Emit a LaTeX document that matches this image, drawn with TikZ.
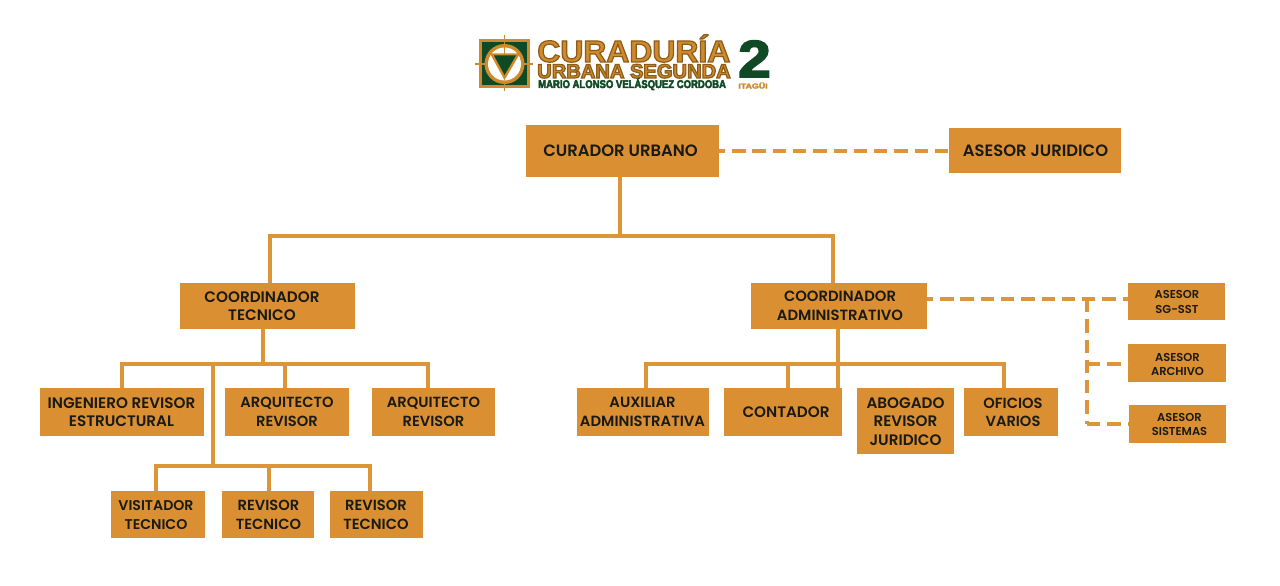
\documentclass[tikz,border=0pt]{standalone}
\usepackage{fontspec}
\setmainfont{Poppins}[BoldFont={Poppins SemiBold}]
\newfontfamily\logofont{Liberation Sans}[BoldFont={Liberation Sans Bold}]
\definecolor{boxc}{HTML}{DA8F33}
\definecolor{linec}{HTML}{DC9638}
\definecolor{inkc}{HTML}{1A1A14}
\definecolor{logog}{HTML}{0F4A24}
\definecolor{logoo}{HTML}{D08A2C}
\usetikzlibrary{calc}
\newcommand{\outl}{\special{pdf:code 2 Tr 0.9 w 0.55 0.36 0.10 RG}}
\newcommand{\outg}{\special{pdf:code 2 Tr 0.35 w 0.06 0.29 0.14 RG}}
\newcommand{\outgg}{\special{pdf:code 2 Tr 1.3 w 0.06 0.29 0.14 RG}}
\newcommand{\outo}{\special{pdf:code 2 Tr 0.2 w 0.82 0.54 0.17 RG}}
\newcommand{\unoutl}{\special{pdf:code 0 Tr}}
\tikzset{
  orgbox/.style={fill=boxc, draw=none, inner sep=0pt},
  orgtext/.style={inner sep=0pt, align=center, text=inkc, font=\bfseries\fontsize{11}{13.9}\selectfont},
  widet/.style={font=\bfseries\fontsize{11.4}{13.9}\selectfont},
  admt/.style={font=\bfseries\fontsize{11.1}{13.9}\selectfont},
  narrowt/.style={font=\bfseries\fontsize{10.6}{13.9}\selectfont},
  bigt/.style={font=\bfseries\fontsize{12.3}{14}\selectfont},
  smallt/.style={font=\bfseries\fontsize{8.6}{10.9}\selectfont},
  conn/.style={draw=linec, line width=2.3pt},
  dashconn/.style={draw=linec, line width=2.3pt, dash pattern=on 10pt off 5.2pt, dash phase=5.5pt},
  logotxt/.style={inner sep=0pt, anchor=base west, font=\logofont\bfseries},
}
% [text style] name x1 y1 x2 y2 textcx textcy text
\newcommand{\bx}[9][]{%
  \node[orgbox, minimum width={(#5-#3)*0.75pt}, minimum height={(#6-#4)*0.75pt}] (#2) at ({(#3+#5)/2},{(#4+#6)/2}) {};
  \node[orgtext,#1] (#2t) at (#7,#8) {#9};}
\begin{document}
\begin{tikzpicture}[x=0.75pt,y=-0.75pt]
\useasboundingbox (0,0) rectangle (1280,585);
\fill[white] (0,0) rectangle (1280,585);
% logo
\fill[logoo] (479,39) rectangle (530,88);
\fill[logog] (482,42) rectangle (527,85);
\draw[logoo,line width=0.9pt] (475,64) -- (533,64) (504.5,35) -- (504.5,91);
\fill[logoo] (504.5,64) circle[radius=20];
\fill[white] (504.5,64) circle[radius=16.5];
\draw[logoo,line width=0.9pt] (504.5,47) -- (504.5,55);
\fill[logoo] (490,53.5) -- (520,53.5) -- (504.5,80) -- cycle;
\fill[logog] (494,55.5) -- (516,55.5) -- (504.5,75) -- cycle;
\node[logotxt,text=logoo,xscale=1.04] (logoa) at (537,62) {\fontsize{23}{24}\selectfont\outl CURADURÍA\unoutl};
\node[logotxt,text=logoo,xscale=1.02] (logob) at (537,78) {\fontsize{14.8}{16}\selectfont\outl URBANA SEGUNDA\unoutl};
\node[logotxt,text=logog,xscale=.85] (logoc) at (538,88) {\fontsize{8.4}{9}\selectfont\outg MARIO ALONSO VELÁSQUEZ CORDOBA\unoutl};
\node[logotxt,text=logog,xscale=1.12] (logod) at (738,77) {\fontsize{39}{40}\selectfont\outgg 2\unoutl};
\node[logotxt,text=logoo,xscale=1.25] (logoe) at (738,88.5) {\fontsize{5.3}{6}\selectfont\outo ITAGÜI\unoutl};
% boxes
\bx[bigt]{cur}{526}{125}{719}{177}{620.5}{151}{CURADOR URBANO}
\bx[bigt]{jur}{949}{128}{1121}{173}{1035.5}{151}{ASESOR JURIDICO}
\bx[widet]{tec}{180}{283}{355}{329}{262}{306}{COORDINADOR\\TECNICO}
\bx[admt]{adm}{751}{283}{927}{329}{840}{306}{COORDINADOR\\ADMINISTRATIVO}
\bx[widet]{ing}{40}{388}{204}{436}{121.5}{412}{INGENIERO REVISOR\\ESTRUCTURAL}
\bx{arqa}{225}{388}{349}{436}{287}{412}{ARQUITECTO\\REVISOR}
\bx{arqb}{372}{388}{495}{436}{433.5}{412}{ARQUITECTO\\REVISOR}
\bx[narrowt]{vis}{111}{491}{205}{538}{156}{515}{VISITADOR\\TECNICO}
\bx{reva}{222}{491}{314}{538}{268.5}{515}{REVISOR\\TECNICO}
\bx{revb}{330}{491}{423}{538}{376}{515}{REVISOR\\TECNICO}
\bx[admt]{aux}{577}{388}{709}{436}{642.5}{412}{AUXILIAR\\ADMINISTRATIVA}
\bx[widet]{con}{724}{388}{842}{436}{786}{412}{CONTADOR}
\bx[widet]{abo}{857}{388}{954}{454}{905.5}{421.5}{ABOGADO\\REVISOR\\JURIDICO}
\bx{ofi}{964}{388}{1058}{436}{1013}{412.5}{OFICIOS\\VARIOS}
\bx[smallt]{sg}{1128}{283}{1225}{320}{1177}{302}{ASESOR\\SG-SST}
\bx[smallt]{arc}{1128}{344}{1226}{382}{1177.5}{364.5}{ASESOR\\ARCHIVO}
\bx[smallt]{sis}{1129}{405}{1226}{443}{1179.5}{424.5}{ASESOR\\SISTEMAS}
% bus coordinates
\coordinate (b0) at (620,236);
\coordinate (bt) at (270,236);
\coordinate (ba) at (833,236);
\coordinate (t0) at (263,364);
\coordinate (ti) at (122,364);
\coordinate (tm) at (213,364);
\coordinate (ta) at (285,364);
\coordinate (tb) at (428,364);
\coordinate (v0) at (213,466);
\coordinate (vv) at (156,466);
\coordinate (vr) at (269,466);
\coordinate (vs) at (370,466);
\coordinate (a0) at (838,364);
\coordinate (ax) at (646,364);
\coordinate (ac) at (788,364);
\coordinate (ao) at (1004,364);
\coordinate (d0) at (1087,299);
\coordinate (d1) at (1087,364);
\coordinate (d2) at (1087,424);
% connectors
\draw[conn] (cur.south -| b0) -- (b0);
\draw[conn] (tec.north -| bt) -- (bt) -- (ba) -- (adm.north -| ba);
\draw[conn] (tec.south -| t0) -- (t0);
\draw[conn] (ing.north -| ti) -- (ti) -- (tb) -- (arqb.north -| tb);
\draw[conn] (arqa.north -| ta) -- (ta);
\draw[conn] (tm) -- (v0);
\draw[conn] (vis.north -| vv) -- (vv) -- (vs) -- (revb.north -| vs);
\draw[conn] (reva.north -| vr) -- (vr);
\draw[conn] (adm.south -| a0) -- (abo.north -| a0);
\draw[conn] (aux.north -| ax) -- (ax) -- (ao) -- (ofi.north -| ao);
\draw[conn] (con.north -| ac) -- (ac);
\draw[dashconn] (cur.east) -- (jur.west |- cur.east);
\draw[dashconn] (adm.east |- d0) -- (sg.west |- d0);
\draw[dashconn,dash phase=0pt] (d0) -- (d2);
\draw[dashconn,dash phase=0pt] (d2) -- (sis.west |- d2);
\draw[dashconn,dash phase=0pt] (d1) -- (arc.west |- d1);
\end{tikzpicture}
\end{document}
